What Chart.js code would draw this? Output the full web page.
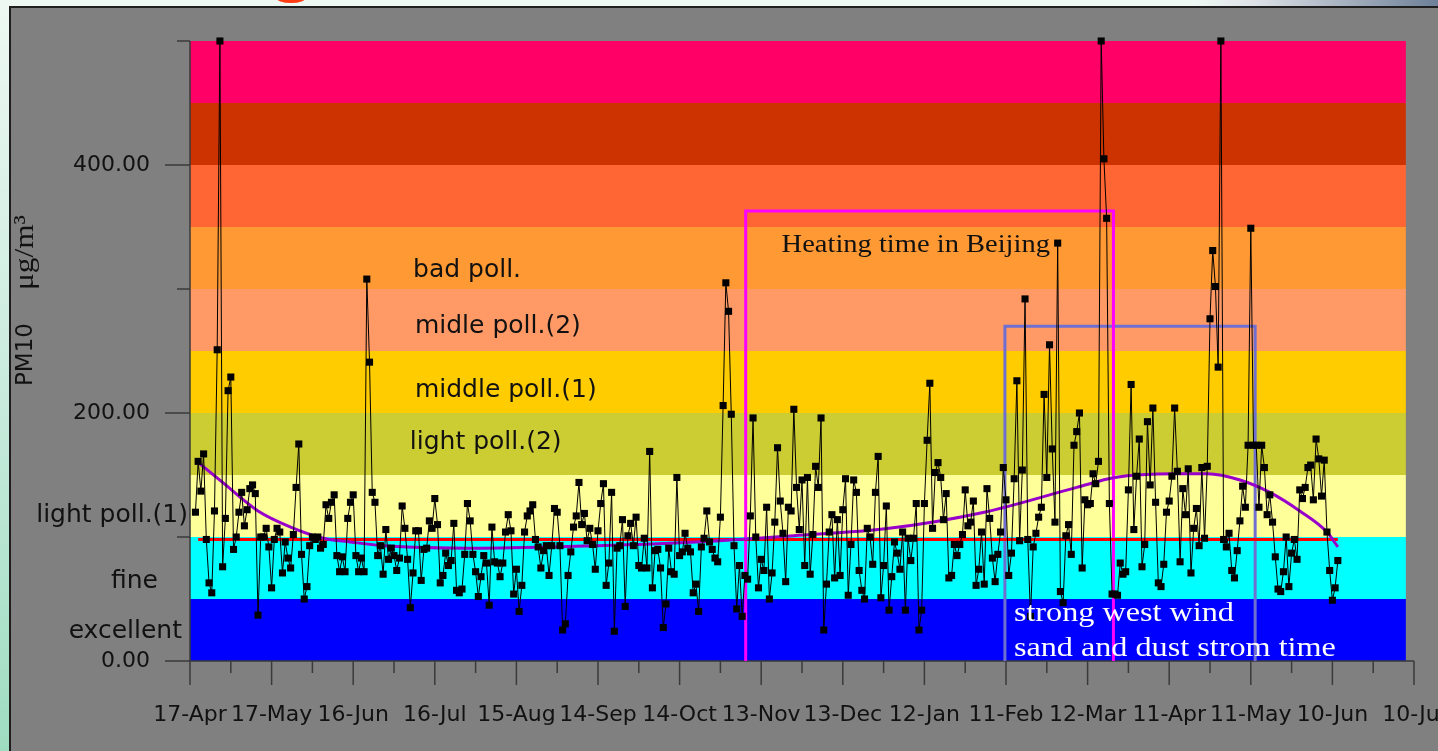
<!DOCTYPE html>
<html lang="en">
<head>
<meta charset="UTF-8">
<title>PM10 Beijing</title>
<script src="https://cdn.jsdelivr.net/npm/chart.js"></script>
<style>
  html, body { margin: 0; padding: 0; }
  body {
    width: 1438px; height: 751px; overflow: hidden; position: relative;
    background: linear-gradient(180deg, #eef8f3 0%, #c6eadb 55%, #9edcc0 100%);
  }
  .topo {
    position: absolute; left: 0; top: 0; width: 1438px; height: 8px;
    background: linear-gradient(90deg, #eef8f3 0%, #eef8f3 83%, #dfe3e8 87%, #6d8098 100%);
  }
  .titulo { position: absolute; left: 276px; top: -8px; width: 30px; height: 11px; border-radius: 50%; background: #ff3b12; }
  .moldura {
    position: absolute; left: 9px; top: 6px; width: 1440px; height: 760px;
    background: #808080; border-left: 2px solid #1e1e1e; border-top: 2px solid #1e1e1e;
  }
  #area { position: absolute; left: 0; top: 0; }
</style>
</head>
<body>
  <div class="topo"></div>
  <div class="titulo"></div>
  <div class="moldura"></div>
  <canvas id="area" width="1438" height="751"></canvas>

<script>
// eixo x: dias desde 17-Apr, rotulos a cada 30 dias
const dayLabels = ['17-Apr', '17-May', '16-Jun', '16-Jul', '15-Aug', '14-Sep', '14-Oct', '13-Nov',
                   '13-Dec', '12-Jan', '11-Feb', '12-Mar', '11-Apr', '11-May', '10-Jun', '10-Jul'];
const firstDay = 2;

// PM10 diario (ug/m3)
const pm10 = [
  120,161,137,167,98,63,55,121,251,500,
  76,115,218,229,90,100,120,136,109,122,
  139,142,135,37,100,100,107,92,59,98,
  107,104,71,96,83,75,102,140,175,86,
  50,60,93,100,98,100,91,94,126,115,
  128,134,85,72,84,72,115,128,134,85,
  72,83,72,308,241,136,128,85,93,70,
  106,82,91,85,73,83,125,107,82,43,
  71,105,105,65,90,91,113,107,131,110,
  63,69,87,77,81,111,57,55,58,86,
  127,113,86,72,52,68,85,79,45,108,
  80,79,68,79,104,118,105,54,74,40,
  61,104,117,121,126,98,92,75,89,93,
  69,93,123,120,93,25,30,69,88,108,
  117,144,110,119,97,107,94,74,105,127,
  143,61,79,136,24,91,93,114,44,101,
  111,93,116,77,75,99,75,169,59,89,
  90,75,27,46,91,72,70,148,85,88,
  103,91,88,55,62,40,92,99,121,96,
  90,83,80,116,206,305,282,199,93,42,
  77,36,69,66,117,196,100,59,82,73,
  124,50,71,112,172,129,103,64,124,121,
  203,140,106,146,77,148,70,102,157,140,
  196,25,62,104,118,67,114,69,122,147,
  53,94,146,136,73,57,50,107,100,78,
  136,165,51,77,125,41,68,96,87,74,
  104,41,99,81,99,127,25,41,127,178,
  224,107,152,160,148,114,135,67,69,94,
  85,94,102,138,109,112,129,61,74,104,
  62,139,115,83,64,86,104,156,130,69,
  87,147,226,97,154,292,98,36,92,103,
  116,124,215,148,255,171,112,337,56,47,
  101,110,86,174,185,200,75,130,126,127,
  151,143,161,500,405,357,127,54,54,53,
  79,70,72,138,223,106,149,179,76,94,
  193,142,204,128,63,60,78,120,129,149,
  204,153,80,139,118,155,71,107,123,93,
  156,99,157,276,331,302,237,500,98,92,
  103,73,67,89,113,141,124,174,349,174,
  174,124,174,156,118,134,112,84,58,56,
  72,100,60,87,98,82,138,131,140,156,
  158,130,179,163,133,162,104,73,49,59,
  81
];

const trendDays   = [2, 12, 25, 37, 49, 59, 71, 107, 150, 186, 222, 257, 292, 326, 340, 362, 374, 386, 397, 408, 418, 422];
const trendValues = [162, 144, 121, 108, 99, 96, 93, 91, 93, 96, 101, 107, 120, 140, 148, 151, 151, 146, 136, 121, 104, 92];

// linha vermelha (padrao)
const limitDays  = [3, 422];
const limitValue = 98;

// faixas de poluicao
const bandLimits = [0, 50, 100, 150, 200, 250, 300, 350, 400, 450, 500];
const bandColors = ['#0000FF', '#00FFFF', '#FFFF99', '#CCCC33', '#FFCC00', '#FF9966', '#FF9933', '#FF6633', '#CC3300', '#FF0066'];
const bandEndDay = 447;

// periodos marcados
const heatingDays = [204.3, 339.5];
const heatingTop  = 363;
const windDays    = [299.6, 391.6];
const windTop     = 270;

const dadosPM = pm10.map((v, i) => ({ x: firstDay + i, y: v }));
const dadosTend = trendDays.map((d, i) => ({ x: d, y: trendValues[i] }));
const dadosLimite = limitDays.map(d => ({ x: d, y: limitValue }));
const caixaAquecimento = [
  { x: heatingDays[0], y: 0 }, { x: heatingDays[0], y: heatingTop },
  { x: heatingDays[1], y: heatingTop }, { x: heatingDays[1], y: 0 }
];
const caixaVento = [
  { x: windDays[0], y: 0 }, { x: windDays[0], y: windTop },
  { x: windDays[1], y: windTop }, { x: windDays[1], y: 0 }
];

const SANS = '"DejaVu Sans", sans-serif';
const SERIF = '"Liberation Serif", "Times New Roman", serif';

function texto(ctx, str, x, y, font, cor, align, sx) {
  ctx.save();
  ctx.font = font;
  ctx.fillStyle = cor;
  ctx.textBaseline = 'middle';
  ctx.textAlign = 'left';
  const w = ctx.measureText(str).width * sx;
  let x0 = x;
  if (align === 'right') x0 = x - w;
  ctx.translate(x0, y);
  ctx.scale(sx, 1);
  ctx.fillText(str, 0, 0);
  ctx.restore();
}

// faixas coloridas + eixos e marcas
const faixas = {
  id: 'faixas',
  beforeDatasetsDraw(chart) {
    const { ctx, scales: { x, y } } = chart;
    const x0 = x.getPixelForValue(0);
    const x1 = x.getPixelForValue(bandEndDay);
    for (let i = 0; i < bandColors.length; i++) {
      const yt = y.getPixelForValue(bandLimits[i + 1]);
      const yb = y.getPixelForValue(bandLimits[i]);
      ctx.fillStyle = bandColors[i];
      ctx.fillRect(x0, yt, x1 - x0, yb - yt);
    }

    ctx.save();
    ctx.strokeStyle = '#3a3a3a';
    ctx.lineWidth = 1.5;
    const y0 = y.getPixelForValue(0);
    ctx.beginPath();
    ctx.moveTo(x0, y.getPixelForValue(500));
    ctx.lineTo(x0, y0);
    ctx.lineTo(x.getPixelForValue(450), y0);
    for (let v = 0; v <= 500; v += 100) {
      const py = y.getPixelForValue(v);
      ctx.moveTo(x0 - (v % 200 === 0 ? 25 : 13), py);
      ctx.lineTo(x0, py);
    }
    for (let d = 0; d <= 450; d += 15) {
      const px = x.getPixelForValue(d);
      ctx.moveTo(px, y0);
      ctx.lineTo(px, y0 + (d % 30 === 0 ? 24 : 12));
    }
    ctx.stroke();
    ctx.restore();
  }
};

// textos das faixas e dos periodos
const rotulos = {
  id: 'rotulos',
  afterDatasetsDraw(chart) {
    const { ctx, scales: { x, y } } = chart;
    const f25 = '25px ' + SANS;
    texto(ctx, 'bad poll.', x.getPixelForValue(82), y.getPixelForValue(315), f25, '#111', 'left', 1);
    texto(ctx, 'midle poll.(2)', x.getPixelForValue(82.7), y.getPixelForValue(270), f25, '#111', 'left', 1);
    texto(ctx, 'middle poll.(1)', x.getPixelForValue(82.7), y.getPixelForValue(218), f25, '#111', 'left', 1);
    texto(ctx, 'light poll.(2)', x.getPixelForValue(80.8), y.getPixelForValue(176), f25, '#111', 'left', 1);

    const left = x.getPixelForValue(0);
    texto(ctx, 'light poll.(1)', left - 2, y.getPixelForValue(117), f25, '#111', 'right', 1);
    texto(ctx, 'fine', left - 32, y.getPixelForValue(64), f25, '#111', 'right', 1);
    texto(ctx, 'excellent', left - 8, y.getPixelForValue(24), f25, '#111', 'right', 1);

    texto(ctx, 'Heating time in Beijing', x.getPixelForValue(217.5), y.getPixelForValue(335), '25px ' + SERIF, '#111', 'left', 1.14);
    texto(ctx, 'strong west wind', x.getPixelForValue(302.9), y.getPixelForValue(38), '28px ' + SERIF, '#ffffff', 'left', 1.15);
    texto(ctx, 'sand and dust strom time', x.getPixelForValue(302.9), y.getPixelForValue(10), '28px ' + SERIF, '#ffffff', 'left', 1.15);

    // titulo do eixo y
    ctx.save();
    ctx.translate(26, 386);
    ctx.rotate(-Math.PI / 2);
    texto(ctx, 'PM10', 0, 0, '23px ' + SANS, '#111', 'left', 1);
    texto(ctx, '\u03BCg/m\u00B3', 96, 0, '28px ' + SERIF, '#111', 'left', 1.12);
    ctx.restore();
  }
};

new Chart(document.getElementById('area'), {
  type: 'line',
  data: {
    datasets: [
      {
        label: 'PM10',
        data: dadosPM,
        borderColor: '#000000',
        borderWidth: 1,
        pointStyle: 'rect',
        pointRadius: 5,
        pointBackgroundColor: '#000000',
        pointBorderWidth: 0,
        tension: 0,
        clip: 10,
        order: 1
      },
      {
        label: 'tendencia',
        data: dadosTend,
        borderColor: '#9900CC',
        borderWidth: 3,
        pointRadius: 0,
        cubicInterpolationMode: 'monotone',
        order: 2
      },
      {
        label: 'limite',
        data: dadosLimite,
        borderColor: '#FF0000',
        borderWidth: 3,
        pointRadius: 0,
        order: 3
      },
      {
        label: 'aquecimento',
        data: caixaAquecimento,
        borderColor: '#FF00FF',
        borderWidth: 3,
        pointRadius: 0,
        clip: 5,
        order: 4
      },
      {
        label: 'vento',
        data: caixaVento,
        borderColor: '#6F6FD2',
        borderWidth: 3,
        pointRadius: 0,
        clip: 5,
        order: 5
      }
    ]
  },
  options: {
    responsive: false,
    animation: false,
    layout: { autoPadding: false, padding: { left: 0, top: 41, right: 24, bottom: 0 } },
    plugins: { legend: { display: false }, tooltip: { enabled: false } },
    scales: {
      x: {
        type: 'linear',
        min: 0,
        max: 450,
        border: { display: false },
        grid: { display: false },
        afterFit: s => { s.height = 90; s.paddingLeft = 0; s.paddingRight = 0; },
        ticks: {
          stepSize: 30,
          autoSkip: false,
          maxRotation: 0,
          padding: 33,
          color: '#111',
          font: { family: SANS, size: 22 },
          callback: v => dayLabels[Math.round(v / 30)] || ''
        }
      },
      y: {
        min: 0,
        max: 500,
        border: { display: false },
        grid: { display: false },
        afterFit: s => { s.width = 190; s.paddingTop = 0; s.paddingBottom = 0; },
        ticks: {
          stepSize: 100,
          padding: 32,
          color: '#111',
          font: { family: SANS, size: 22 },
          callback: v => (v % 200 === 0 ? v.toFixed(2) : '')
        }
      }
    }
  },
  plugins: [faixas, rotulos]
});
</script>
</body>
</html>
